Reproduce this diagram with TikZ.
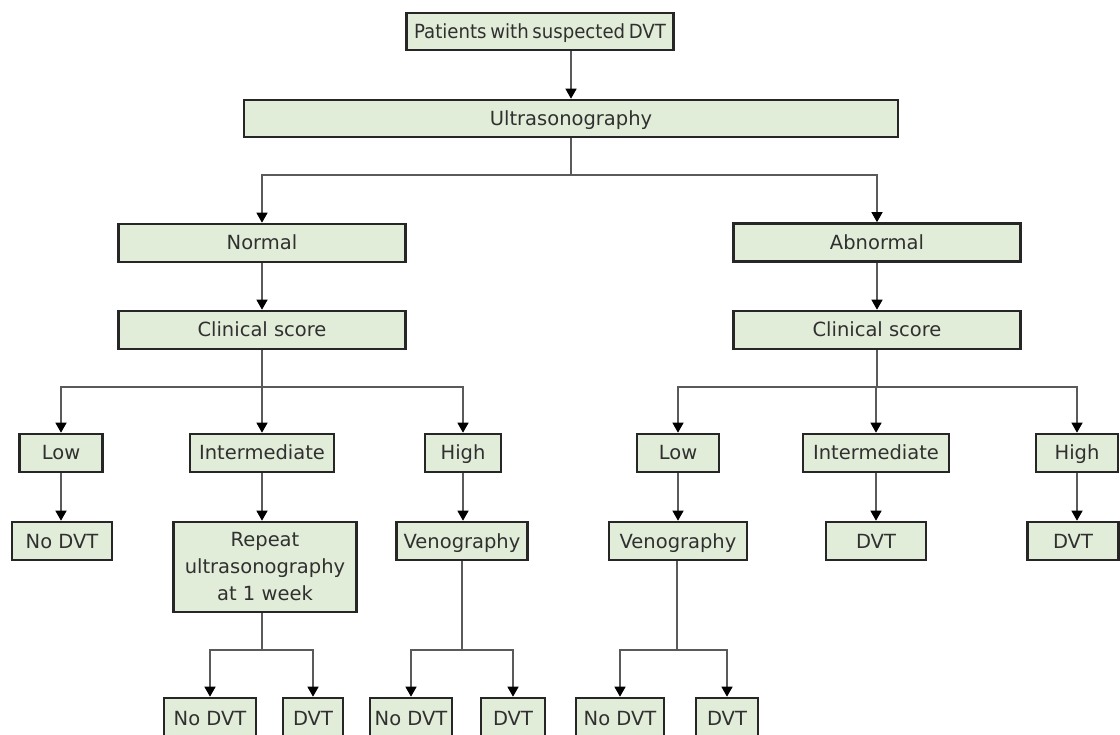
\documentclass[tikz,border=0pt]{standalone}
\usepackage{fontspec}
\setmainfont{DejaVu Sans}
\usetikzlibrary{arrows.meta}
\definecolor{boxfill}{HTML}{E2EDD9}
\definecolor{boxtext}{HTML}{303030}
\definecolor{wirecol}{HTML}{5A5A5A}
\begin{document}
\begin{tikzpicture}[x=1pt,y=-1pt,
  boxbase/.style={draw=black!85, line width=2.6pt, fill=boxfill, text=boxtext,
    font=\fontsize{19.5}{23}\selectfont, inner sep=0pt, align=center},
  box/.style={boxbase, text height=18pt, text depth=4pt},
  tallbox/.style={boxbase, font=\fontsize{19.5}{27}\selectfont},
  wire/.style={draw=wirecol, line width=1.3pt},
  arr/.style={wire, -{Triangle[width=11pt,length=10pt,color=black]}}]
\useasboundingbox (0,0) rectangle (1120,735);

% top levels
\node[box, minimum width=267, minimum height=37] (top) at (540,31.5)
  {\scalebox{0.93}[1]{\spaceskip=0.2em Patients with suspected DVT}};
\node[box, minimum width=654, minimum height=37] (us) at (571,118.5) {Ultrasonography};
\node[box, minimum width=287, minimum height=38] (normal) at (262,243) {Normal};
\node[box, minimum width=287, minimum height=38] (abnormal) at (877,242.5) {Abnormal};
\node[box, minimum width=287, minimum height=38] (cs1) at (262,330) {Clinical score};
\node[box, minimum width=287, minimum height=38] (cs2) at (877,330) {Clinical score};

% clinical score categories
\node[box, minimum width=83, minimum height=38] (low1) at (61,453) {Low};
\node[box, minimum width=144, minimum height=38] (int1) at (262,453) {Intermediate};
\node[box, minimum width=76, minimum height=38] (high1) at (463,453) {High};
\node[box, minimum width=82, minimum height=38] (low2) at (678,453) {Low};
\node[box, minimum width=146, minimum height=38] (int2) at (876,453) {Intermediate};
\node[box, minimum width=82, minimum height=38] (high2) at (1077,453) {High};

% follow-up
\node[box, minimum width=100, minimum height=38] (nodvt1) at (62,541) {No DVT};
\node[tallbox, minimum width=183, minimum height=90] (rep) at (265,567) {Repeat\\ultrasonography\\at 1 week};
\node[box, minimum width=131, minimum height=38] (ven1) at (462,541) {Venography};
\node[box, minimum width=138, minimum height=38] (ven2) at (678,541) {Venography};
\node[box, minimum width=100, minimum height=38] (dvt2) at (876,541) {DVT};
\node[box, minimum width=91, minimum height=38] (dvt3) at (1073,541) {DVT};

% outcomes
\node[box, minimum width=92, minimum height=40] (b1) at (210,718) {No DVT};
\node[box, minimum width=60, minimum height=40] (b2) at (313,718) {DVT};
\node[box, minimum width=82, minimum height=40] (b3) at (411,718) {No DVT};
\node[box, minimum width=64, minimum height=40] (b4) at (513,718) {DVT};
\node[box, minimum width=88, minimum height=40] (b5) at (620,718) {No DVT};
\node[box, minimum width=62, minimum height=40] (b6) at (727,718) {DVT};

% junction points
\coordinate (j0) at (571,175);
\coordinate (j1) at (262,387);
\coordinate (j2) at (877,387);
\coordinate (j3) at (262,650);
\coordinate (j4) at (462,650);
\coordinate (j5) at (677,650);

% connectors
\draw[arr] (top.south -| us.north) -- (us.north);
\draw[wire] (us.south) -- (j0);
\draw[arr] (j0) -| (normal.north);
\draw[arr] (j0) -| (abnormal.north);
\draw[arr] (normal.south) -- (cs1.north);
\draw[arr] (abnormal.south) -- (cs2.north);

\draw[wire] (cs1.south) -- (j1);
\draw[arr] (j1) -| (low1.north);
\draw[arr] (j1) -- (int1.north);
\draw[arr] (j1) -| (high1.north);
\draw[wire] (cs2.south) -- (j2);
\draw[arr] (j2) -| (low2.north);
\draw[arr] (j2) -| (int2.north);
\draw[arr] (j2) -| (high2.north);

\draw[arr] (low1.south) -- (low1.south |- nodvt1.north);
\draw[arr] (int1.south) -- (int1.south |- rep.north);
\draw[arr] (high1.south) -- (high1.south |- ven1.north);
\draw[arr] (low2.south) -- (low2.south |- ven2.north);
\draw[arr] (int2.south) -- (int2.south |- dvt2.north);
\draw[arr] (high2.south) -- (high2.south |- dvt3.north);

\draw[wire] (rep.south -| j3) -- (j3);
\draw[arr] (j3) -| (b1.north);
\draw[arr] (j3) -| (b2.north);
\draw[wire] (ven1.south -| j4) -- (j4);
\draw[arr] (j4) -| (b3.north);
\draw[arr] (j4) -| (b4.north);
\draw[wire] (ven2.south -| j5) -- (j5);
\draw[arr] (j5) -| (b5.north);
\draw[arr] (j5) -| (b6.north);
\end{tikzpicture}
\end{document}
